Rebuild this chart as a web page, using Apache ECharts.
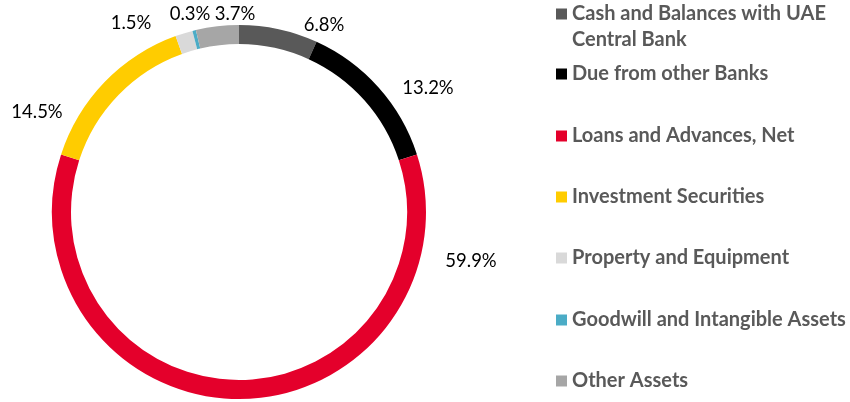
<!DOCTYPE html>
<html>
<head>
<meta charset="utf-8">
<script src="https://cdn.jsdelivr.net/npm/echarts@6/dist/echarts.min.js"></script>
<style>
  html, body { margin: 0; padding: 0; background: #ffffff; }
  #chart { width: 850px; height: 402px; }
</style>
</head>
<body>
<div id="chart"></div>
<script>
// asset mix, % of total
var categories = [
  'Cash and Balances with UAE Central Bank',
  'Due from other Banks',
  'Loans and Advances, Net',
  'Investment Securities',
  'Property and Equipment',
  'Goodwill and Intangible Assets',
  'Other Assets'
]
var shares = [6.8, 13.2, 59.9, 14.5, 1.5, 0.3, 3.7]

var colorList = ['#595959', '#000000', '#e4002b', '#ffcc00', '#d9d9d9', '#4bacc6', '#a6a6a6']

// label centres (Excel "best fit" places them off the mid angle)
var labelPos = [[324, 25], [428, 88], [471, 261], [37, 112], [131, 23], [190, 14], [235, 14]]
// legend row centres
var legendRows = [14, 74, 136, 197, 258, 320, 381]

var chart = echarts.init(document.getElementById('chart'))

var legendFont = {
  color: '#595959',
  fontFamily: 'Lato',
  fontWeight: 'bold',
  fontSize: 20,
  lineHeight: 26
}

var legends = categories.map(function (name, i) {
  var first = i === 0
  return {
    data: [name],
    orient: 'vertical',
    left: 556,
    top: first ? legendRows[i] - 39 : legendRows[i] - 13,
    icon: 'rect',
    itemWidth: 11,
    itemHeight: 11,
    itemGap: 6,
    selectedMode: false,
    padding: 0,
    textStyle: legendFont,
    formatter: function (n) {
      // wrap the long first entry, blank line keeps the box on the first row
      return first ? ' \nCash and Balances with UAE\nCentral Bank' : n
    }
  }
})

var option = {
  animation: false,
  color: colorList,
  legend: legends,
  series: [
    {
      type: 'pie',
      center: [239, 212],
      radius: [168, 187],
      startAngle: 90,
      clockwise: true,
      avoidLabelOverlap: false,
      label: {
        show: true,
        position: 'outside',
        formatter: function (p) {
          return p.value.toFixed(1) + '%'
        },
        fontFamily: 'Lato',
        fontSize: 18.5,
        color: '#000000'
      },
      labelLine: { show: false },
      labelLayout: function (params) {
        var pos = labelPos[params.dataIndex]
        return {
          x: pos[0],
          y: pos[1],
          align: 'center',
          verticalAlign: 'middle'
        }
      },
      itemStyle: { borderWidth: 0 },
      emphasis: { disabled: true },
      data: categories.map(function (name, i) {
        return { name: name, value: shares[i] }
      })
    }
  ]
}

chart.setOption(option)
</script>
</body>
</html>
